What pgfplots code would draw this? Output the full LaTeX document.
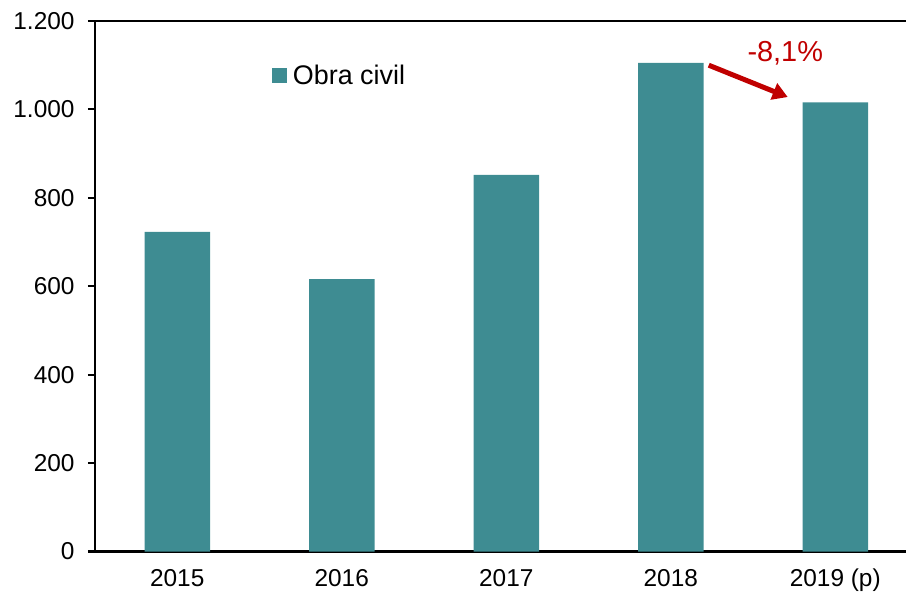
\documentclass[border=0pt]{standalone}
\usepackage{pgfplots}
\pgfplotsset{compat=1.18}
\usepackage{fontspec}
\setmainfont{Liberation Sans}
\usetikzlibrary{arrows.meta}
\definecolor{barcol}{RGB}{62,140,146}
\definecolor{arrred}{RGB}{192,0,0}
\begin{document}
\begin{tikzpicture}
\begin{axis}[
  scale only axis,
  width=811bp, height=530.5bp,
  xmin=-0.5, xmax=4.43,
  ymin=0, ymax=1200,
  ytick={0,200,400,600,800,1000,1200},
  xtick={0,1,2,3,4},
  xticklabels={2015,2016,2017,2018,2019 (p)},
  axis x line*=bottom,
  axis y line*=left,
  axis line style={line width=2.5bp, -},
  y tick style={line width=2bp, black},
  major tick length=7bp,
  tick align=outside,
  x tick style={draw=none},
  /pgf/number format/.cd, 1000 sep={.}, assume math mode=true,
  /pgfplots/.cd,
  yticklabel style={font=\fontsize{24.5}{28}\selectfont, xshift=-10bp},
  xticklabel style={font=\fontsize{24.5}{28}\selectfont, yshift=-7bp},
  legend style={at={(rel axis cs:0.218,0.897)}, anchor=west, draw=none, fill=none,
    inner sep=0pt, font=\fontsize{27}{31}\selectfont,
    nodes={inner sep=0pt, anchor=west}},
  legend image code/.code={\fill[barcol] (0bp,-7.5bp) rectangle (15bp,7.5bp);},
  legend cell align=left,
]
\addplot[ybar, bar width=65.5bp, fill=barcol, draw=none] coordinates {
  (0,723) (1,616) (2,852) (3,1105) (4,1016)
};
\addlegendentry{\hspace{6bp}Obra civil}
\draw[line width=2.5bp] (rel axis cs:0,1) -- (rel axis cs:1,1);
\draw[arrred, line width=5bp, -{Triangle[length=15bp,width=17bp]}] (axis cs:3.231,1100) -- (axis cs:3.711,1028);
\node[arrred, font=\fontsize{29}{33}\selectfont] at (axis cs:3.696,1127) {-8,1\%};
\coordinate (BL) at (rel axis cs:0,0);
\coordinate (TR) at (rel axis cs:1,1);
\end{axis}
\pgfresetboundingbox
\path ([shift={(-95bp,-47.5bp)}]BL) rectangle ([shift={(0bp,21bp)}]TR);
\end{tikzpicture}
\end{document}
